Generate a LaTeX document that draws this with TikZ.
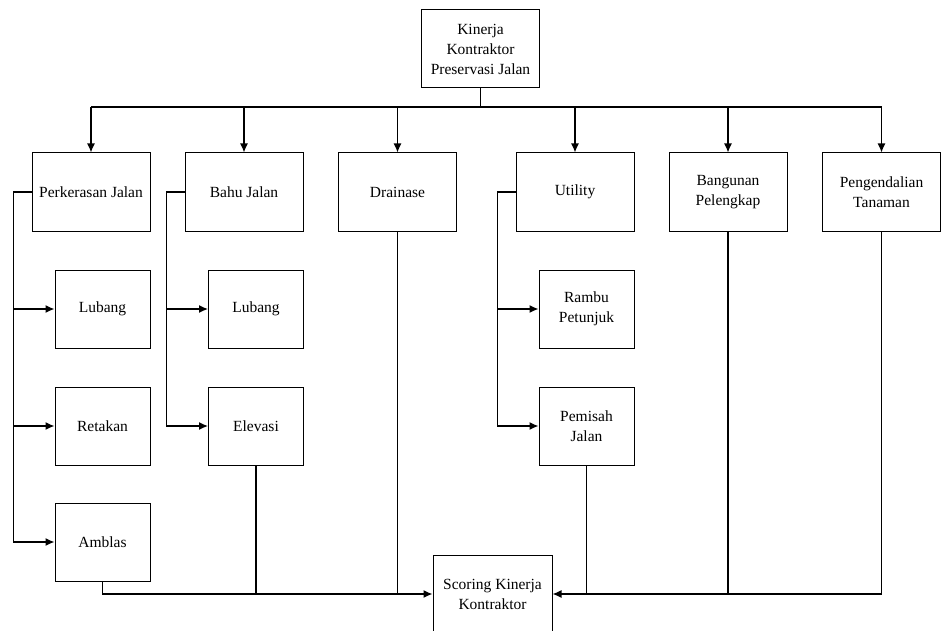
\documentclass[tikz,border=0pt]{standalone}
\usepackage{fontspec}
\setmainfont{Liberation Serif}
\usetikzlibrary{arrows.meta}

\tikzset{
  kotak/.style={draw, line width=1pt, minimum width=118pt, minimum height=78pt,
    inner sep=0pt, align=center, font=\fontsize{15.5}{20}\selectfont},
  subkotak/.style={kotak, minimum width=95pt},
  garis/.style={line width=1.3pt},
  >={Latex[length=9pt,width=8pt]}
}

\begin{document}
\begin{tikzpicture}[x=1pt, y=-1pt]
  \useasboundingbox (0,0) rectangle (942,631);

  % Kinerja utama
  \node[kotak] (kinerja) at (480.5,49) {Kinerja\\Kontraktor\\Preservasi Jalan};
  \coordinate (bus) at (0,107);

  % Aspek penilaian
  \node[kotak] (perkerasan) at (91,192) {Perkerasan Jalan};
  \node[kotak] (bahu) at (244,192) {Bahu Jalan};
  \node[kotak] (drainase) at (397.5,192) {Drainase};
  \node[kotak] (utility) at (575,192) {Utility};
  \node[kotak] (bangunan) at (728,192) {Bangunan\\Pelengkap};
  \node[kotak] (tanaman) at (881.5,192) {Pengendalian\\Tanaman};

  % Sub aspek
  \node[subkotak] (lubangA) at (102.5,309) {Lubang};
  \node[subkotak] (retakan) at (102.5,426) {Retakan};
  \node[subkotak] (amblas) at (102.5,542) {Amblas};
  \node[subkotak] (lubangB) at (256,309) {Lubang};
  \node[subkotak] (elevasi) at (256,426) {Elevasi};
  \node[subkotak] (rambu) at (586.5,309) {Rambu\\Petunjuk};
  \node[subkotak] (pemisah) at (586.5,426) {Pemisah\\Jalan};

  % Hasil
  \node[kotak, minimum width=119pt] (scoring) at (492.5,594) {Scoring Kinerja\\Kontraktor};

  % Cabang dari atas
  \draw[garis] (kinerja.south) -- (kinerja |- bus);
  \draw[garis] (perkerasan |- bus) -- (tanaman |- bus);
  \foreach \n in {perkerasan,bahu,drainase,utility,bangunan,tanaman}
    \draw[garis,->] (\n |- bus) -- (\n.north);

  % Cabang ke sub aspek
  \foreach \n in {lubangA,retakan,amblas}
    \draw[garis,->] (perkerasan.west) -- ++(-18,0) |- (\n.west);
  \foreach \n in {lubangB,elevasi}
    \draw[garis,->] (bahu.west) -- ++(-18,0) |- (\n.west);
  \foreach \n in {rambu,pemisah}
    \draw[garis,->] (utility.west) -- ++(-18,0) |- (\n.west);

  % Menuju scoring
  \draw[garis,->] (amblas.south) |- (scoring.west);
  \draw[garis] (elevasi.south) -- (elevasi.south |- scoring.west);
  \draw[garis] (drainase.south) -- (drainase.south |- scoring.west);
  \draw[garis,->] (tanaman.south) |- (scoring.east);
  \draw[garis] (bangunan.south) -- (bangunan.south |- scoring.east);
  \draw[garis] (pemisah.south) -- (pemisah.south |- scoring.east);

\end{tikzpicture}
\end{document}
